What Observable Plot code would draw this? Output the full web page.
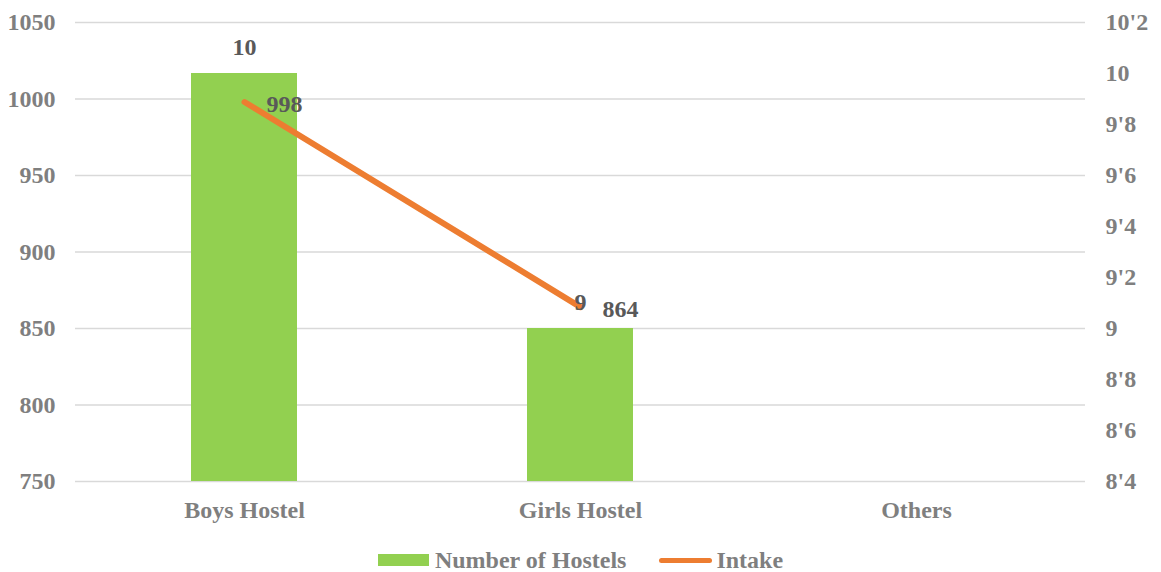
<!DOCTYPE html>
<html><head><meta charset="utf-8">
<script src="https://cdn.jsdelivr.net/npm/d3@7"></script>
<script src="https://cdn.jsdelivr.net/npm/@observablehq/plot@0.6"></script>
<style>
body{margin:0;background:#fff;}
#chart{position:relative;width:1161px;height:572px;font-family:"Liberation Serif",serif;font-weight:bold;}
#chart svg{position:absolute;left:0;top:0;}
#legend{position:absolute;left:0;top:545px;width:1161px;height:30px;line-height:30px;display:flex;justify-content:center;align-items:center;font-size:24px;color:#7f7f7f;}
#legend .sw{display:inline-block;margin-right:6px;}
</style></head><body><div id="chart"></div>
<script>
const categories = ["Boys Hostel", "Girls Hostel", "Others"];
const hostels = [10, 9, null];
const intake = [998, 864, null];
const leftTicks = [750, 800, 850, 900, 950, 1000, 1050];
const rightTicks = [8.4, 8.6, 8.8, 9, 9.2, 9.4, 9.6, 9.8, 10, 10.2];
const seriesNames = ["Number of Hostels", "Intake"];
const leftDomain = [750, 1050];
const rightDomain = [8.4, 10.2];

const rows = categories.map((c, i) => ({category: c, hostels: hostels[i], intake: intake[i]}));
const W = 1161, H = 530;
const base = {
  width: W, height: H, marginTop: 22, marginRight: 76, marginBottom: 49, marginLeft: 75,
  style: {background: "transparent", fontFamily: "'Liberation Serif', serif", fontSize: "24px", fontWeight: "bold", color: "#7f7f7f", overflow: "visible"}
};
const fmtRight = d => String(+d.toFixed(1)).replace(".", "'");
const chart = document.getElementById("chart");

// Layer A: gridlines + left axis
chart.append(Plot.plot({...base,
  x: {type: "band", domain: categories, axis: null},
  y: {domain: leftDomain, axis: null},
  marks: [
    Plot.gridY(leftTicks, {stroke: "#d9d9d9", strokeOpacity: 1, strokeWidth: 1.5}),
    Plot.axisY(leftTicks, {anchor: "left", tickSize: 0, tickPadding: 20, tickFormat: d => String(d), label: null})
  ]
}));

// Layer B: bars + right axis + x axis
chart.append(Plot.plot({...base,
  x: {type: "band", domain: categories, paddingInner: 0.685, paddingOuter: 0.3425},
  y: {domain: rightDomain, axis: null},
  marks: [
    Plot.barY(rows.filter(d => d.hostels != null), {x: "category", y1: rightDomain[0], y2: "hostels", fill: "#92D050"}),
    Plot.axisY(rightTicks, {anchor: "right", tickSize: 0, tickPadding: 20, tickFormat: fmtRight, label: null}),
    Plot.axisX({anchor: "bottom", tickSize: 0, tickPadding: 19, label: null})
  ]
}));

// Layer C: intake line + labels
chart.append(Plot.plot({...base,
  x: {type: "point", domain: categories, padding: 0.5, axis: null},
  y: {domain: leftDomain, axis: null},
  marks: [
    Plot.line(rows, {x: "category", y: "intake", stroke: "#ED7D31", strokeWidth: 6, strokeLinecap: "round"}),
    Plot.text(rows.filter(d => d.intake != null), {x: "category", y: "intake", text: d => String(d.intake), textAnchor: "start", dx: 22, dy: 2, fill: "#595959"})
  ]
}));

// Layer D: bar labels
chart.append(Plot.plot({...base,
  x: {type: "point", domain: categories, padding: 0.5, axis: null},
  y: {domain: rightDomain, axis: null},
  marks: [
    Plot.text(rows.filter(d => d.hostels != null), {x: "category", y: "hostels", text: d => String(d.hostels), dy: -26, fill: "#595959"})
  ]
}));

const legend = document.createElement("div");
legend.id = "legend";
legend.innerHTML =
  `<span class="sw" style="width:51px;height:12px;background:#92D050"></span><span>${seriesNames[0]}</span>` +
  `<span class="sw" style="width:53px;height:5px;border-radius:3px;background:#ED7D31;margin-left:33px;margin-right:4px"></span><span>${seriesNames[1]}</span>`;
chart.append(legend);
</script></body></html>
